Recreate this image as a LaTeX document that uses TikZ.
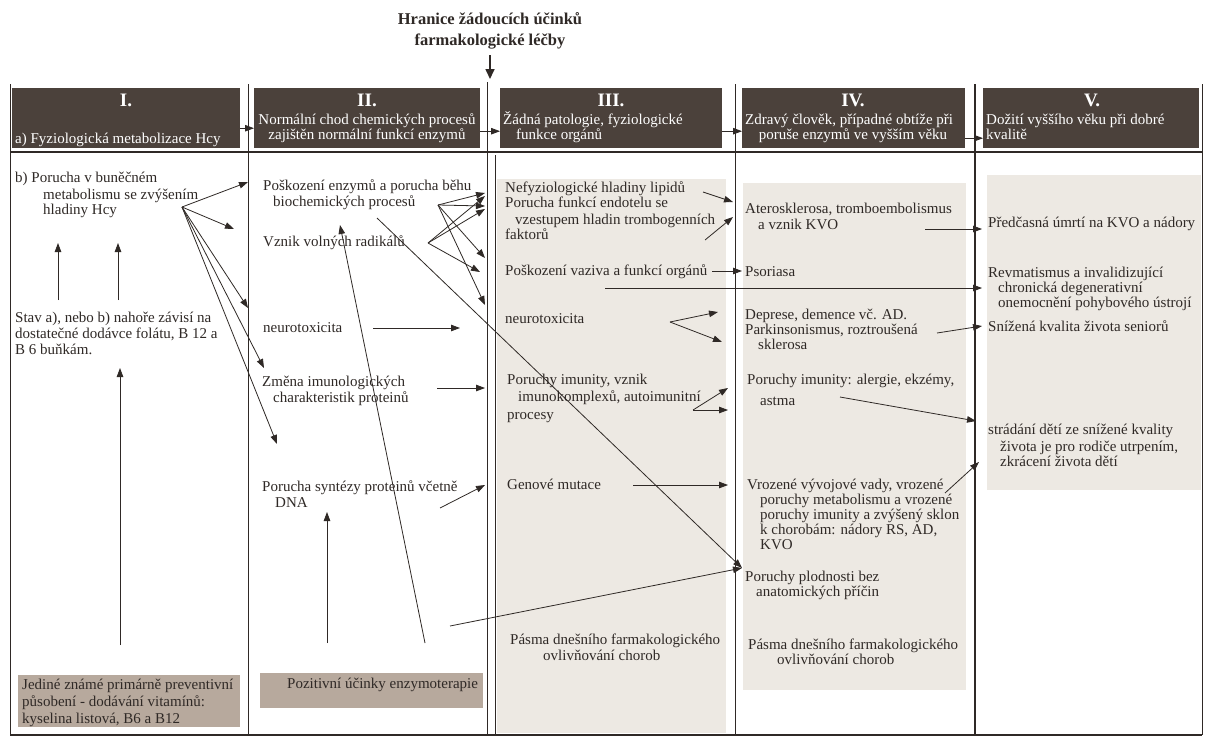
\documentclass[tikz,border=0pt]{standalone}
\usepackage{fontspec}
\setmainfont{Liberation Serif}
\usetikzlibrary{arrows.meta}
\definecolor{hdrfill}{HTML}{4B413B}
\definecolor{pale}{HTML}{EDE9E3}
\definecolor{boxfill}{HTML}{B7A99D}
\definecolor{ink}{HTML}{2F2926}
\tikzset{
  txt/.style={anchor=base west,inner sep=0pt,text=ink,font=\fontsize{15}{16}\selectfont},
  hdrbox/.style={fill=hdrfill,anchor=north west,inner sep=0pt,minimum height=60pt},
  hdrtxt/.style={anchor=base west,inner sep=0pt,text=white,font=\fontsize{15}{15}\selectfont},
  hdrmid/.style={hdrtxt,anchor=base},
  hdrnum/.style={anchor=base,inner sep=0pt,text=white,font=\bfseries\fontsize{19}{20}\selectfont},
  ttl/.style={anchor=base,inner sep=0pt,text=ink,font=\bfseries\fontsize{16.5}{18}\selectfont},
  botbox/.style={fill=boxfill,anchor=north west,inner sep=0pt},
  rule/.style={draw=ink,line width=0.9pt},
  heavyrule/.style={draw=ink,line width=1.8pt},
  arr/.style={draw=ink,line width=0.8pt,-{Triangle[length=9pt,width=6.5pt]}},
}

\begin{document}
\begin{tikzpicture}[x=1pt,y=-1pt]
\useasboundingbox (0,0) rectangle (1206,740);
\fill[white] (0,0) rectangle (1206,740);

\node[ttl] (ttlA) at (490,24) {Hranice žádoucích účinků};
\node[ttl] (ttlB) at (490,45) {farmakologické léčby};
\coordinate (hrtop) at (490,55);
\coordinate (hrbot) at (490,79);
\draw[arr,line width=1.6pt,-{Triangle[length=10pt,width=9pt]}] (hrtop) -- (hrbot);

\fill[pale] (497,179) rectangle (726,733);
\fill[pale] (743,183) rectangle (966,690);
\fill[pale] (987,175) rectangle (1201,490);

\foreach \nm/\xa/\bw in {hI/12/228,hII/254/226,hIII/500/222,hIV/742/223,hV/983/216}
  \node[hdrbox,minimum width=\bw pt] (\nm) at (\xa,88) {};

\draw[arr] ([yshift=-10pt]hI.east) -- ([yshift=-10pt]hII.west);
\draw[arr] ([yshift=-13pt]hII.east) -- ([yshift=-13pt]hIII.west);
\draw[arr] ([yshift=-13pt]hIII.east) -- ([yshift=-13pt]hIV.west);
\draw[arr] ([yshift=-20pt]hIV.east) -- ([yshift=-20pt]hV.west);

\node[hdrnum] (numI) at (126,106) {I.};
\node[hdrtxt] (hIa) at (15,143) {a) Fyziologická metabolizace Hcy};
\node[hdrnum] (numII) at (367,106) {II.};
\node[hdrmid] (hIIa) at (367,124) {Normální chod chemických procesů};
\node[hdrmid] (hIIb) at (367,139) {zajištěn normální funkcí enzymů};
\node[hdrnum] (numIII) at (611,106) {III.};
\node[hdrtxt] (hIIIa) at (503,124) {Žádná patologie, fyziologické};
\node[hdrtxt] (hIIIb) at (516,139) {funkce orgánů};
\node[hdrnum] (numIV) at (853,106) {IV.};
\node[hdrtxt] (hIVa) at (745,124) {Zdravý člověk, případné obtíže při};
\node[hdrmid] (hIVb) at (853,139) {poruše enzymů ve vyšším věku};
\node[hdrnum] (numV) at (1092,106) {V.};
\node[hdrtxt] (hVa) at (986,124) {Dožití vyššího věku při dobré};
\node[hdrtxt] (hVb) at (986,139) {kvalitě};

\draw[rule] (10,84) -- (10,735);
\draw[rule] (248,84) -- (248,735);
\draw[rule] (487,82) -- (487,735);
\draw[rule] (495,155) -- (495,735);
\draw[rule] (735,84) -- (735,735);
\draw[rule,line width=1.5pt] (975,84) -- (975,735);
\draw[rule] (1202,84) -- (1202,735);
\draw[heavyrule] (10,152) -- (1202,152);
\draw[heavyrule] (10,735) -- (1202,735);

\node[botbox,minimum width=222pt,minimum height=52pt] (vitbox) at (18,675) {};
\node[botbox,minimum width=223pt,minimum height=35pt] (enzbox) at (260,673) {};

% column I
\node[txt] (hcyA) at (15,182) {b) Porucha v buněčném};
\node[txt] (hcyB) at (43,199) {metabolismu se zvýšením};
\node[txt] (hcyC) at (43,214) {hladiny Hcy};
\node[txt] (stavA) at (15,322) {Stav a), nebo b) nahoře závisí na};
\node[txt] (stavB) at (15,338) {dostatečné dodávce folátu, B 12 a};
\node[txt] (stavC) at (15,354) {B 6 buňkám.};
\node[txt] (vitA) at (22,689) {Jediné známé primárně preventivní};
\node[txt] (vitB) at (22,706) {působení - dodávání vitamínů:};
\node[txt] (vitC) at (22,723) {kyselina listová, B6 a B12};

% column II
\node[txt] (enzA) at (263,190) {Poškození enzymů a porucha běhu};
\node[txt] (enzB) at (273,206) {biochemických procesů};
\node[txt] (rad) at (263,246) {Vznik volných radikálů};
\node[txt] (neuroII) at (263,332) {neurotoxicita};
\node[txt] (imunIIa) at (262,386) {Změna imunologických};
\node[txt] (imunIIb) at (273,402) {charakteristik proteinů};
\node[txt] (syntA) at (262,491) {Porucha syntézy proteinů včetně};
\node[txt] (syntB) at (275,507) {DNA};
\node[txt] (enzt) at (287,688) {Pozitivní účinky enzymoterapie};

% column III
\node[txt] (lip) at (505,192) {Nefyziologické hladiny lipidů};
\node[txt] (endoA) at (505,207) {Porucha funkcí endotelu se};
\node[txt] (endoB) at (515,224) {vzestupem hladin trombogenních};
\node[txt] (endoC) at (505,239) {faktorů};
\node[txt] (vaz) at (505,275) {Poškození vaziva a funkcí orgánů};
\node[txt] (neuroIII) at (505,323) {neurotoxicita};
\node[txt] (imunIIIa) at (507,384) {Poruchy imunity, vznik};
\node[txt] (imunIIIb) at (518,401) {imunokomplexů, autoimunitní};
\node[txt] (imunIIIc) at (507,419) {procesy};
\node[txt] (gen) at (507,489) {Genové mutace};
\node[txt] (pasmoIIIa) at (510,644) {Pásma dnešního farmakologického};
\node[txt] (pasmoIIIb) at (543,660) {ovlivňování chorob};

% column IV
\node[txt] (aterA) at (745,213) {Aterosklerosa, tromboembolismus};
\node[txt] (aterB) at (758,229) {a vznik KVO};
\node[txt] (psor) at (745,276) {Psoriasa};
\node[txt] (deprA) at (745,319) {Deprese, demence vč. AD.};
\node[txt] (deprB) at (745,334) {Parkinsonismus, roztroušená};
\node[txt] (deprC) at (758,349) {sklerosa};
\node[txt] (alergA) at (747,384) {Poruchy imunity: alergie, ekzémy,};
\node[txt] (alergB) at (760,405) {astma};
\node[txt] (vrozA) at (747,489) {Vrozené vývojové vady, vrozené};
\node[txt] (vrozB) at (760,504) {poruchy metabolismu a vrozené};
\node[txt] (vrozC) at (760,519) {poruchy imunity a zvýšený sklon};
\node[txt] (vrozD) at (760,534) {k chorobám: nádory RS, AD,};
\node[txt] (vrozE) at (760,549) {KVO};
\node[txt] (plodA) at (745,581) {Poruchy plodnosti bez};
\node[txt] (plodB) at (756,596) {anatomických příčin};
\node[txt] (pasmoIVa) at (748,649) {Pásma dnešního farmakologického};
\node[txt] (pasmoIVb) at (777,664) {ovlivňování chorob};

% column V
\node[txt] (umrti) at (988,227) {Předčasná úmrtí na KVO a nádory};
\node[txt] (revmA) at (988,277) {Revmatismus a invalidizující};
\node[txt] (revmB) at (998,292) {chronická degenerativní};
\node[txt] (revmC) at (998,307) {onemocnění pohybového ústrojí};
\node[txt] (senior) at (988,331) {Snížená kvalita života seniorů};
\node[txt] (detiA) at (988,434) {strádání dětí ze snížené kvality};
\node[txt] (detiB) at (1000,451) {života je pro rodiče utrpením,};
\node[txt] (detiC) at (1000,466) {zkrácení života dětí};

\coordinate (hcyout) at (182,207);
\coordinate (toenz) at (248,182);
\coordinate (torad) at (234,229);
\coordinate (toneuro) at (248,308);
\coordinate (toimun) at (264,368);
\coordinate (tosynt) at (277,444);
\coordinate (upA) at (58,300);   \coordinate (upAend) at (58,243);
\coordinate (upB) at (118,300);  \coordinate (upBend) at (118,243);
\coordinate (upC) at (120,645);  \coordinate (upCend) at (120,368);

\coordinate (biout) at (438,205);
\coordinate (radout) at (428,243);
\coordinate (bdA) at (485,193);
\coordinate (bdB) at (485,206);
\coordinate (bdC) at (485,258);
\coordinate (bdD) at (485,305);
\coordinate (bdE) at (485,196);
\coordinate (bdF) at (485,209);
\coordinate (bdG) at (480,272);
\coordinate (bilong) at (377,218);
\coordinate (fert) at (742,568);
\coordinate (enzbot) at (425,643);
\coordinate (enzup) at (340,225);
\coordinate (syntbot) at (327,643);
\coordinate (syntup) at (327,512);
\coordinate (fertsrc) at (450,626);
\coordinate (neuroIIout) at (373,328);
\coordinate (neuroIIin) at (460,328);
\coordinate (imunIIout) at (437,388);
\coordinate (imunIIin) at (485,388);
\coordinate (syntout) at (440,508);
\coordinate (syntin) at (485,485);

\coordinate (lipout) at (703,192);
\coordinate (aterinA) at (733,202);
\coordinate (faktout) at (705,240);
\coordinate (aterinB) at (733,217);
\coordinate (vazout) at (712,271);
\coordinate (psorin) at (742,271);
\coordinate (revmsrc) at (605,288);
\coordinate (revmin) at (982,288);
\coordinate (neuroIIIout) at (670,322);
\coordinate (deprinA) at (718,312);
\coordinate (deprinB) at (722,342);
\coordinate (imunIIIout) at (693,410);
\coordinate (alerginA) at (728,388);
\coordinate (alerginB) at (728,410);
\coordinate (genout) at (633,485);
\coordinate (vrozin) at (728,485);

\coordinate (kvoout) at (925,229);
\coordinate (umrtiin) at (982,229);
\coordinate (sklout) at (937,333);
\coordinate (seniorin) at (982,326);
\coordinate (alergout) at (840,397);
\coordinate (detiinA) at (976,421);
\coordinate (vrozout) at (945,493);
\coordinate (detiinB) at (979,462);

\foreach \tgt in {toenz,torad,toneuro,toimun,tosynt}
  \draw[arr] (hcyout) -- (\tgt);
\draw[arr] (upA) -- (upAend);
\draw[arr] (upB) -- (upBend);
\draw[arr] (upC) -- (upCend);

\foreach \tgt in {bdA,bdB,bdC,bdD}
  \draw[arr] (biout) -- (\tgt);
\foreach \tgt in {bdE,bdF,bdG}
  \draw[arr] (radout) -- (\tgt);
\draw[arr] (bilong) -- (fert);
\draw[arr] (fertsrc) -- (fert);
\draw[arr] (enzbot) -- (enzup);
\draw[arr] (syntbot) -- (syntup);
\draw[arr] (neuroIIout) -- (neuroIIin);
\draw[arr] (imunIIout) -- (imunIIin);
\draw[arr] (syntout) -- (syntin);

\draw[arr] (lipout) -- (aterinA);
\draw[arr] (faktout) -- (aterinB);
\draw[arr] (vazout) -- (psorin);
\draw[arr] (revmsrc) -- (revmin);
\draw[arr] (neuroIIIout) -- (deprinA);
\draw[arr] (neuroIIIout) -- (deprinB);
\draw[arr] (imunIIIout) -- (alerginA);
\draw[arr] (imunIIIout) -- (alerginB);
\draw[arr] (genout) -- (vrozin);

\draw[arr] (kvoout) -- (umrtiin);
\draw[arr] (sklout) -- (seniorin);
\draw[arr] (alergout) -- (detiinA);
\draw[arr] (vrozout) -- (detiinB);
\end{tikzpicture}
\end{document}
